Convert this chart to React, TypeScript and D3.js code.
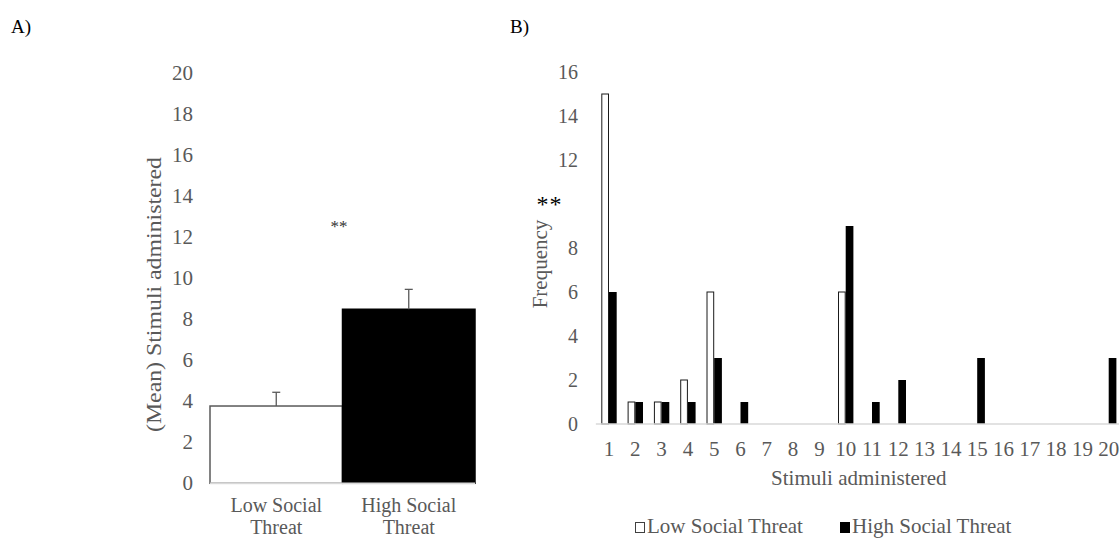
import React from "react";
import * as d3 from "d3";

// ---------- Panel A data ----------
const groupsA = ["Low Social Threat", "High Social Threat"];
const groupLinesA = [["Low Social", "Threat"], ["High Social", "Threat"]];
const meansA = [3.77, 8.49];
const errUpperA = [4.44, 9.46];
const ticksA = [0, 2, 4, 6, 8, 10, 12, 14, 16, 18, 20];
const fillsA = ["#ffffff", "#000000"];

// ---------- Panel B data ----------
const stimuli = ["1","2","3","4","5","6","7","8","9","10","11","12","13","14","15","16","17","18","19","20"];
const lowFreq = [15, 1, 1, 2, 6, 0, 0, 0, 0, 6, 0, 0, 0, 0, 0, 0, 0, 0, 0, 0];
const highFreq = [6, 1, 1, 1, 3, 1, 0, 0, 0, 9, 1, 2, 0, 0, 3, 0, 0, 0, 0, 3];
const ticksB = [0, 2, 4, 6, 8, 12, 14, 16];
const seriesB = ["Low Social Threat", "High Social Threat"];

const SERIF = "'Liberation Serif', 'Times New Roman', serif";
const GRAY = "#595959";

export default function App() {
  // Panel A scales
  const yA = d3.scaleLinear().domain([0, 20]).range([483.3, 73.3]);
  const xA = d3.scaleBand().domain(groupsA).range([210, 475]).paddingInner(0).paddingOuter(0);

  // Panel B scales
  const yB = d3.scaleLinear().domain([0, 16]).range([424, 72]);
  const xB = d3.scaleBand().domain(stimuli).range([595.85, 1121.85]).paddingInner(0.415).paddingOuter(0.2075);
  const xSub = d3.scaleBand().domain(seriesB).range([0, xB.bandwidth()]);

  return (
    <svg width={1119} height={539} style={{ position: "absolute", left: 0, top: 0, background: "#fff" }} fontFamily={SERIF}>
      <rect x={0} y={0} width={1119} height={539} fill="#fff" />
      {/* Panel labels */}
      <text x={11} y={33} fontSize={19} fill="#000">A)</text>
      <text x={510} y={33} fontSize={19} fill="#000">B)</text>

      {/* ===== Panel A ===== */}
      {ticksA.map((t) => (
        <text key={"ta" + t} x={193} y={yA(t)} fontSize={21} fill={GRAY} textAnchor="end" dominantBaseline="central">{t}</text>
      ))}
      <text transform={`translate(161,294.5) rotate(-90)`} fontSize={22} fill={GRAY} textAnchor="middle" textLength={275} lengthAdjust="spacingAndGlyphs">(Mean) Stimuli administered</text>
      {groupsA.map((g, i) => (
        <rect key={"ba" + g} x={xA(g)!} y={yA(meansA[i])} width={xA.bandwidth()} height={yA(0) - yA(meansA[i])}
          fill={fillsA[i]} stroke={i === 0 ? GRAY : "#000"} strokeWidth={1.5} />
      ))}
      <line x1={210} x2={475} y1={yA(0)} y2={yA(0)} stroke="#d9d9d9" strokeWidth={1.5} />
      {groupsA.map((g, i) => {
        const cx = xA(g)! + xA.bandwidth() / 2;
        return (
          <g key={"ea" + g} stroke={GRAY} strokeWidth={1.3}>
            <line x1={cx} x2={cx} y1={yA(meansA[i])} y2={yA(errUpperA[i])} />
            <line x1={cx - 4} x2={cx + 4} y1={yA(errUpperA[i])} y2={yA(errUpperA[i])} />
          </g>
        );
      })}
      <text x={339} y={232} fontSize={17} fill="#333" textAnchor="middle">**</text>
      {groupsA.map((g, i) => (
        <g key={"la" + g}>
          <text x={xA(g)! + xA.bandwidth() / 2} y={511.5} fontSize={20} fill={GRAY} textAnchor="middle">{groupLinesA[i][0]}</text>
          <text x={xA(g)! + xA.bandwidth() / 2} y={534} fontSize={20} fill={GRAY} textAnchor="middle">{groupLinesA[i][1]}</text>
        </g>
      ))}

      {/* ===== Panel B ===== */}
      {ticksB.map((t) => (
        <text key={"tb" + t} x={578} y={yB(t)} fontSize={20} fill={GRAY} textAnchor="end" dominantBaseline="central">{t}</text>
      ))}
      <text x={549.5} y={212} fontSize={24} fill="#000" textAnchor="middle" letterSpacing={1}>**</text>
      <text transform={`translate(547,264) rotate(-90)`} fontSize={21} fill={GRAY} textAnchor="middle">Frequency</text>
      {stimuli.map((s, i) => (
        <g key={"gb" + s}>
          {lowFreq[i] > 0 && (
            <rect x={xB(s)! + xSub("Low Social Threat")! + 0.5} y={yB(lowFreq[i])} width={xSub.bandwidth() - 1}
              height={yB(0) - yB(lowFreq[i])} fill="#fff" stroke="#1a1a1a" strokeWidth={1} />
          )}
          {highFreq[i] > 0 && (
            <rect x={xB(s)! + xSub("High Social Threat")!} y={yB(highFreq[i])} width={xSub.bandwidth()}
              height={yB(0) - yB(highFreq[i])} fill="#000" />
          )}
        </g>
      ))}
      <line x1={595.85} x2={1121.85} y1={yB(0)} y2={yB(0)} stroke="#d9d9d9" strokeWidth={1.5} />
      {stimuli.map((s) => (
        <text key={"xb" + s} x={xB(s)! + xB.bandwidth() / 2} y={449} fontSize={21} fill={GRAY} textAnchor="middle" dominantBaseline="central">{s}</text>
      ))}
      <text x={858.85} y={485} fontSize={21} fill={GRAY} textAnchor="middle">Stimuli administered</text>

      {/* Legend */}
      <rect x={635.5} y={522.5} width={9} height={10} fill="#fff" stroke="#404040" strokeWidth={1} />
      <text x={647} y={533} fontSize={21} fill={GRAY}>Low Social Threat</text>
      <rect x={840} y={522} width={10} height={11} fill="#000" />
      <text x={852} y={533} fontSize={21} fill={GRAY}>High Social Threat</text>
    </svg>
  );
}
